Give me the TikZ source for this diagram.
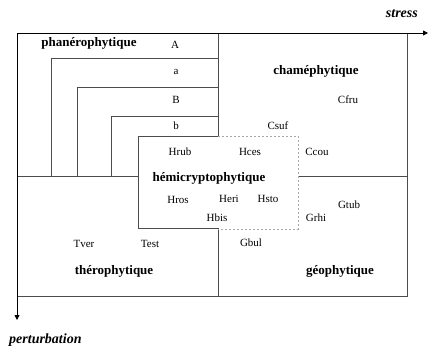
\documentclass[tikz,border=0pt]{standalone}
\usepackage{fontspec}
\setmainfont{Liberation Serif}
\usetikzlibrary{positioning,arrows.meta}

\begin{document}
\begin{tikzpicture}[x=1pt,y=-1pt,
    frame/.style={draw=black!70,line width=0.8pt},
    open/.style={draw=black!35,line width=0.8pt,dash pattern=on 2pt off 2pt},
    axis/.style={frame,draw=black,-{Triangle[length=5pt,width=5pt]}},
    taxon/.style={inner sep=1pt,font=\fontsize{11}{13}\selectfont},
    group/.style={inner sep=1pt,font=\fontsize{13}{15}\selectfont\bfseries},
    axislabel/.style={inner sep=1pt,font=\fontsize{14}{16}\selectfont\bfseries\itshape}]
\useasboundingbox (0,0) rectangle (430,348);
% corners
\coordinate (o) at (17,33);
\coordinate (sx) at (428,33);
\coordinate (py) at (17,320);
% outer frame and quadrants
\draw[frame] (17,33) rectangle (407,296);
\draw[frame] (218,33) -- (218,136);
\draw[frame] (218,228) -- (218,296);
\draw[frame] (17,176) -- (138,176);
\draw[frame] (298,176) -- (407,176);
% nested phanerophytes
\foreach \x/\y in {51/58,77/87,111/116}
  \draw[frame] (\x,176) -- (\x,\y) -- (218,\y);
% hemicryptophytes
\draw[frame] (218,136) -- (138,136) -- (138,228) -- (218,228);
\draw[open] (218,136) -- (298,136) -- (298,229) -- (218,229);
% axes
\draw[axis] (o) -- (sx);
\draw[axis] (o) -- (py);
\node[axislabel,anchor=east] (stress) at (419,14) {stress};
\node[axislabel,anchor=west] (perturb) at (8,340) {perturbation};
% groups
\node[group] (phan) at (89,43) {phanérophytique};
\node[group] (cham) at (316,71) {chaméphytique};
\node[group] (hemi) at (209,178) {hémicryptophytique};
\node[group] (thero) at (114,271) {thérophytique};
\node[group] (geo) at (340,271) {géophytique};
% taxa
\node[taxon] (A) at (175,45) {A};
\node[taxon] (a) at (176,72) {a};
\node[taxon] (B) at (176,100) {B};
\node[taxon] (b) at (176,126) {b};
\node[taxon] (Hrub) at (180,152) {Hrub};
\node[taxon] (Hces) at (250,152) {Hces};
\node[taxon] (Hros) at (178,200) {Hros};
\node[taxon] (Heri) at (229,199) {Heri};
\node[taxon] (Hsto) at (268,199) {Hsto};
\node[taxon] (Hbis) at (217,218) {Hbis};
\node[taxon] (Cfru) at (348,100) {Cfru};
\node[taxon] (Csuf) at (278,126) {Csuf};
\node[taxon] (Ccou) at (317,152) {Ccou};
\node[taxon] (Gtub) at (349,205) {Gtub};
\node[taxon] (Grhi) at (316,218) {Grhi};
\node[taxon] (Gbul) at (251,243) {Gbul};
\node[taxon] (Tver) at (84,244) {Tver};
\node[taxon] (Test) at (150,244) {Test};
\end{tikzpicture}
\end{document}
